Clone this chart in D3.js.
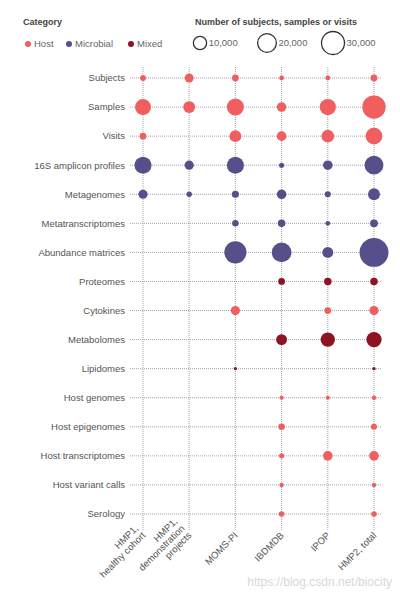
<!DOCTYPE html>
<html>
<head>
<meta charset="utf-8">
<script src="https://cdn.jsdelivr.net/npm/d3@7"></script>
<style>
  body { margin: 0; background: #fff; }
  text { font-family: "Liberation Sans", Arial, sans-serif; }
</style>
</head>
<body>
<div id="chart"></div>
<script>
// Studies (columns) and data types (rows).
const studies = ["HMP1,\nhealthy cohort", "HMP1,\ndemonstration\nprojects", "MOMS-PI", "IBDMDB", "IPOP", "HMP2, total"];
const dataTypes = ["Subjects", "Samples", "Visits", "16S amplicon profiles", "Metagenomes",
  "Metatranscriptomes", "Abundance matrices", "Proteomes", "Cytokines", "Metabolomes",
  "Lipidomes", "Host genomes", "Host epigenomes", "Host transcriptomes", "Host variant calls", "Serology"];
const rowCategory = ["Host", "Host", "Host", "Microbial", "Microbial",
  "Microbial", "Microbial", "Mixed", "Host", "Mixed",
  "Mixed", "Host", "Host", "Host", "Host", "Host"];
const counts = [
  [1900, 4500, 2600, 1300, 1300, 2600],
  [14500, 8000, 16500, 5200, 15000, 31000],
  [2600, 0, 8000, 5200, 9000, 16000],
  [16500, 4800, 16500, 1500, 5200, 20000],
  [4800, 1700, 2900, 5200, 2100, 8000],
  [0, 0, 2400, 3200, 1300, 3500],
  [0, 0, 27800, 22000, 6700, 47500],
  [0, 0, 0, 2600, 3200, 3200],
  [0, 0, 4800, 0, 2600, 4800],
  [0, 0, 0, 6700, 11600, 13300],
  [0, 0, 640, 0, 0, 640],
  [0, 0, 0, 1000, 1000, 1100],
  [0, 0, 0, 2400, 0, 2100],
  [0, 0, 0, 1500, 5200, 5200],
  [0, 0, 0, 1100, 0, 1100],
  [0, 0, 0, 1700, 0, 1700]
];
const categories = ["Host", "Microbial", "Mixed"];
const categoryColors = ["#ef5f5f", "#55508a", "#8e1424"];
const sizeLegend = [10000, 20000, 30000];

const width = 400, height = 600;
const svg = d3.select("#chart").append("svg")
  .attr("width", width)
  .attr("height", height);

const x = d3.scalePoint().domain(studies).range([143, 374]);
const y = d3.scalePoint().domain(dataTypes).range([78, 514]);
const r = d3.scaleSqrt().domain([0, 30000]).range([0, 11.5]);
const color = d3.scaleOrdinal().domain(categories).range(categoryColors);

// Grid: dotted vertical and horizontal lines.
const grid = svg.append("g").attr("class", "grid");
grid.selectAll("line.v")
  .data(studies)
  .enter().append("line")
  .attr("class", "v")
  .attr("x1", d => x(d)).attr("x2", d => x(d))
  .attr("y1", 67).attr("y2", 531)
  .attr("stroke", "#8c8c99")
  .attr("stroke-width", 0.8)
  .attr("stroke-dasharray", "1,1");
grid.selectAll("line.h")
  .data(dataTypes)
  .enter().append("line")
  .attr("class", "h")
  .attr("x1", 130).attr("x2", 382)
  .attr("y1", d => y(d)).attr("y2", d => y(d))
  .attr("stroke", "#8c8c99")
  .attr("stroke-width", 0.8)
  .attr("stroke-dasharray", "1,1");

// Row labels.
svg.append("g").selectAll("text")
  .data(dataTypes)
  .enter().append("text")
  .attr("x", 125)
  .attr("y", d => y(d))
  .attr("dy", "0.35em")
  .attr("text-anchor", "end")
  .attr("fill", "#555")
  .style("font-size", "9.5px")
  .text(d => d);

// Column labels, rotated; last line ends under the column.
const colLabels = svg.append("g");
studies.forEach(s => {
  const lines = s.split("\n");
  const n = lines.length;
  lines.forEach((line, i) => {
    const k = n - 1 - i;
    const off = k * 10 * Math.SQRT1_2;
    colLabels.append("text")
      .attr("transform", `translate(${x(s) + 3 - off},${536 - off}) rotate(-45)`)
      .attr("text-anchor", "end")
      .attr("fill", "#555")
      .style("font-size", "9.5px")
      .text(line);
  });
});

// Bubbles.
const cells = [];
dataTypes.forEach((t, i) => {
  studies.forEach((s, j) => {
    if (counts[i][j] > 0) cells.push({ type: t, study: s, value: counts[i][j], cat: rowCategory[i] });
  });
});
svg.append("g").selectAll("circle")
  .data(cells)
  .enter().append("circle")
  .attr("cx", d => x(d.study))
  .attr("cy", d => y(d.type))
  .attr("r", d => r(d.value))
  .attr("fill", d => color(d.cat));

// Category legend.
svg.append("text")
  .attr("x", 23).attr("y", 25)
  .attr("fill", "#444")
  .style("font-size", "9px")
  .style("font-weight", "bold")
  .text("Category");
const catX = [28, 69, 131];
const catG = svg.append("g").selectAll("g")
  .data(categories)
  .enter().append("g")
  .attr("transform", (d, i) => `translate(${catX[i]},44)`);
catG.append("circle").attr("r", 3).attr("fill", d => color(d));
catG.append("text")
  .attr("x", 6).attr("dy", "0.35em")
  .attr("fill", "#666")
  .style("font-size", "9.5px")
  .text(d => d);

// Size legend.
svg.append("text")
  .attr("x", 195).attr("y", 25)
  .attr("fill", "#444")
  .style("font-size", "9px")
  .style("font-weight", "bold")
  .text("Number of subjects, samples or visits");
const sizeX = [200, 267, 333];
const sizeG = svg.append("g").selectAll("g")
  .data(sizeLegend)
  .enter().append("g")
  .attr("transform", (d, i) => `translate(${sizeX[i]},43)`);
sizeG.append("circle")
  .attr("r", d => r(d))
  .attr("fill", "none")
  .attr("stroke", "#333")
  .attr("stroke-width", 1.3);
sizeG.append("text")
  .attr("x", d => r(d) + 2).attr("dy", "0.35em")
  .attr("fill", "#666")
  .style("font-size", "9.5px")
  .text(d => d3.format(",")(d));

// Watermark.
svg.append("text")
  .attr("x", 392).attr("y", 586)
  .attr("text-anchor", "end")
  .attr("fill", "#d8d8d8")
  .style("font-size", "12px")
  .text("https://blog.csdn.net/biocity");
</script>
</body>
</html>
